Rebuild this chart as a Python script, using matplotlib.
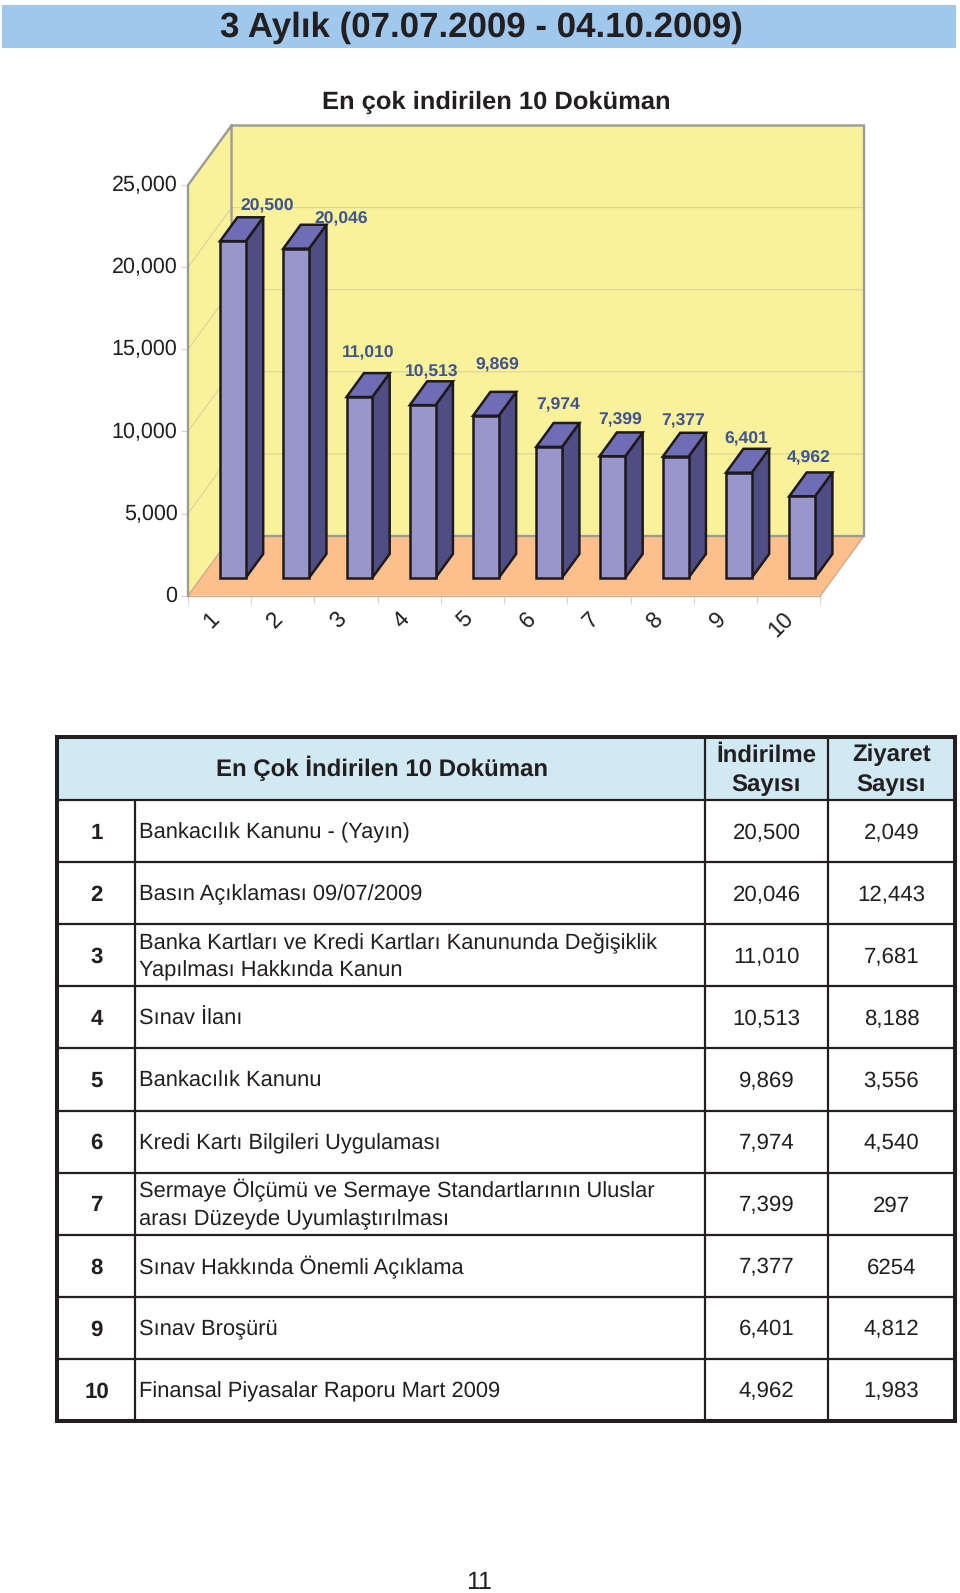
import matplotlib
matplotlib.use("Agg")
import matplotlib.pyplot as plt
from matplotlib.patches import Polygon, Rectangle
from matplotlib.transforms import ScaledTranslation

plt.rcParams['font.family'] = ['Liberation Sans', 'DejaVu Sans']
plt.rcParams['text.hinting'] = 'no_hinting'
plt.rcParams['text.hinting_factor'] = 8

# ---- data ----
PAGE_TITLE = "3 Aylık (07.07.2009 - 04.10.2009)"
CHART_TITLE = "En çok indirilen 10 Doküman"
HEAD_DOC = "En Çok İndirilen 10 Doküman"
HEAD_DL = "İndirilme\nSayısı"
HEAD_VIS = "Ziyaret\nSayısı"
ranks = [1, 2, 3, 4, 5, 6, 7, 8, 9, 10]
downloads = [20500, 20046, 11010, 10513, 9869, 7974, 7399, 7377, 6401, 4962]
visits = ["2,049", "12,443", "7,681", "8,188", "3,556", "4,540", "297", "6254", "4,812", "1,983"]
documents = [
    "Bankacılık Kanunu - (Yayın)",
    "Basın Açıklaması 09/07/2009",
    "Banka Kartları ve Kredi Kartları Kanununda Değişiklik\nYapılması Hakkında Kanun",
    "Sınav İlanı",
    "Bankacılık Kanunu",
    "Kredi Kartı Bilgileri Uygulaması",
    "Sermaye Ölçümü ve Sermaye Standartlarının Uluslar\narası Düzeyde Uyumlaştırılması",
    "Sınav Hakkında Önemli Açıklama",
    "Sınav Broşürü",
    "Finansal Piyasalar Raporu Mart 2009",
]
value_ticks = [0, 5000, 10000, 15000, 20000, 25000]
PAGE_NUMBER = "11"

# ---- layout / style ----
W, H = 960, 1593
INK = "#231F20"
label_offsets_px = [(25.5, 23.7), (36.5, 17.7), (0, 31.7), (0, 21.7), (2.5, 38.7), (0, 29.7),
                    (-1, 24.2), (-1, 23.7), (-1, 21.7), (-2.5, 26.2)]

fig = plt.figure(figsize=(W / 100, H / 100), dpi=100, facecolor="white")

# page layer in pixel coordinates
pg = fig.add_axes([0, 0, 1, 1], zorder=0)
pg.set_xlim(0, W)
pg.set_ylim(H, 0)
pg.axis("off")

pg.add_patch(Rectangle((2, 5), 954, 43, fc="#A0C8EC", ec="none"))
pg.text(481, 28, PAGE_TITLE, ha="center", va="center", fontsize=25.1, fontweight="bold", color=INK)
pg.text(496, 102, CHART_TITLE, ha="center", va="center", fontsize=18.35, fontweight="bold", color=INK)
pg.text(479, 1583, PAGE_NUMBER, ha="center", va="center", fontsize=18, color=INK)

# ---- 3D-look chart: data axes with an oblique depth projection ----
AL, AR, AT, AB = 188, 864, 125.5, 595.7
ax = fig.add_axes([AL / W, 1 - AB / H, (AR - AL) / W, (AB - AT) / H], zorder=1)
ax.patch.set_alpha(0)
DX = 43.5 / 63.2          # depth offset in category units
DY = 59.7 / 410.7 * 25000  # depth offset in value units
N = len(downloads)
VMAX = value_ticks[-1]
ax.set_xlim(0, N + DX)
ax.set_ylim(0, VMAX + DY)
for s in ax.spines.values():
    s.set_visible(False)


def P(x, v, d):
    return (x + d * DX, v + d * DY)


WALL, FLOOR, GRID, EDGE = "#F9F29A", "#FDC08C", "#D9D49B", "#9C9C94"
FLOOR_EDGE = "#C9AE8C"
ax.add_patch(Polygon([P(0, 0, 1), P(N, 0, 1), P(N, VMAX, 1), P(0, VMAX, 1)], fc=WALL, ec="none", zorder=1))
ax.add_patch(Polygon([P(0, 0, 0), P(0, 0, 1), P(0, VMAX, 1), P(0, VMAX, 0)], fc=WALL, ec="none", zorder=1))
ax.add_patch(Polygon([P(0, 0, 0), P(N, 0, 0), P(N, 0, 1), P(0, 0, 1)], fc=FLOOR, ec="none", zorder=1))
for v in value_ticks[1:-1]:
    pts = [P(0, v, 0), P(0, v, 1), P(N, v, 1)]
    ax.plot(*zip(*pts), color=GRID, lw=0.8, zorder=2)
for a, b in [(P(0, 0, 0), P(N, 0, 0)), (P(N, 0, 0), P(N, 0, 1)), (P(0, 0, 0), P(0, 0, 1))]:
    ax.plot(*zip(a, b), color=FLOOR_EDGE, lw=1.0, zorder=2, clip_on=False)
border = [P(0, 0, 0), P(0, VMAX, 0), P(0, VMAX, 1), P(N, VMAX, 1), P(N, 0, 1), P(0, 0, 1), P(0, VMAX, 1)]
ax.plot(*zip(*border), color=EDGE, lw=1.7, zorder=3, clip_on=False, solid_joinstyle="miter")

BAR_L, BAR_W, D0, D1 = 0.30, 0.407, 0.3, 0.7
FRONT, SIDE, TOP, BAR_EDGE = "#9896CA", "#4F4E84", "#6E6DB5", "#1E1A1C"
for i, v in enumerate(downloads):
    x0, x1 = i + BAR_L, i + BAR_L + BAR_W
    faces = [
        ([P(x1, 0, D0), P(x1, 0, D1), P(x1, v, D1), P(x1, v, D0)], SIDE),
        ([P(x0, v, D0), P(x1, v, D0), P(x1, v, D1), P(x0, v, D1)], TOP),
        ([P(x0, 0, D0), P(x1, 0, D0), P(x1, v, D0), P(x0, v, D0)], FRONT),
    ]
    for pts, col in faces:
        ax.add_patch(Polygon(pts, fc=col, ec=BAR_EDGE, lw=1.8, joinstyle="miter", zorder=4 + i * 0.01))
    ox, oy = label_offsets_px[i]
    ax.annotate(f"{v:,}", xy=P((x0 + x1) / 2, v, 0.5), xytext=(ox * 0.72, oy * 0.72),
                textcoords="offset points", ha="center", va="center", fontsize=12.6,
                fontweight="bold", color="#3F5590", zorder=6, annotation_clip=False)

ax.set_yticks(value_ticks)
ax.set_yticklabels([f"{t:,}" for t in value_ticks], fontsize=15.5, color=INK)
ax.tick_params(axis="y", length=5, width=0.8, color="#D4D4D4", pad=2.5)
shift_up = ScaledTranslation(0, 1.2 / 72, fig.dpi_scale_trans)
for lab in ax.get_yticklabels():
    lab.set_transform(lab.get_transform() + shift_up)
ax.set_xticks([i + 0.38 for i in range(N)])
ax.set_xticklabels([str(r) for r in ranks], rotation=45, fontsize=16.5, color=INK, ha="center", va="top")
ax.set_xticks(list(range(N + 1)), minor=True)
ax.tick_params(axis="x", which="major", length=0, pad=9)
ax.tick_params(axis="x", which="minor", length=6, width=0.8, color="#D4D4D4")

# ---- table (page layer, pixel coordinates) ----
TL, TR, TT, HB = 57, 955, 736.5, 800
ROW = 62.1
C1, C2, C3 = 135, 705, 828
TB = HB + ROW * len(ranks)
pg.add_patch(Rectangle((TL, TT), TR - TL, HB - TT, fc="#D0E9F2", ec="none"))
LINE = "#231F20"
for k in range(len(ranks) + 1):
    y = HB + k * ROW
    pg.plot([TL, TR], [y, y], color=LINE, lw=1.6, solid_capstyle="butt")
pg.plot([C1, C1], [HB, TB], color=LINE, lw=1.6, solid_capstyle="butt")
for c in (C2, C3):
    pg.plot([c, c], [TT, TB], color=LINE, lw=1.6, solid_capstyle="butt")
pg.add_patch(Rectangle((TL, TT), TR - TL, TB - TT, fc="none", ec=LINE, lw=2.9, joinstyle="miter"))

HEAD_FS, DOC_FS, NUM_FS = 17.3, 15.75, 16.0
TXT_DY = 2
pg.text(382, 768, HEAD_DOC, ha="center", va="center", fontsize=HEAD_FS, fontweight="bold", color=INK)
pg.text((C2 + C3) / 2, 770, HEAD_DL, ha="center", va="center", fontsize=HEAD_FS, fontweight="bold",
        color=INK, linespacing=1.42)
pg.text((C3 + TR) / 2, 770, HEAD_VIS, ha="center", va="center", fontsize=HEAD_FS, fontweight="bold",
        color=INK, linespacing=1.42)
for k, (r, doc, dl, vis) in enumerate(zip(ranks, documents, downloads, visits)):
    yc = HB + (k + 0.5) * ROW + TXT_DY
    pg.text(96.5, yc, str(r), ha="center", va="center", fontsize=NUM_FS, fontweight="bold", color=INK)
    pg.text(139, yc - (1 if "\n" in doc else 0), doc, ha="left", va="center", fontsize=DOC_FS, color=INK,
            linespacing=1.45)
    pg.text((C2 + C3) / 2, yc, f"{dl:,}", ha="center", va="center", fontsize=NUM_FS, color=INK)
    pg.text((C3 + TR) / 2, yc, vis, ha="center", va="center", fontsize=NUM_FS, color=INK)

fig.savefig("out.png", dpi=100, facecolor="white")
